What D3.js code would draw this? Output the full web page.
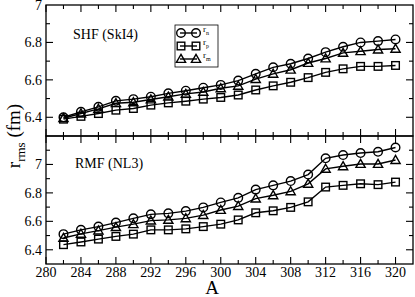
<!DOCTYPE html>
<html><head>
<script src="https://d3js.org/d3.v7.min.js"></script>
<style>
  body { margin: 0; background: #fff; }
  text { font-family: "Liberation Serif", "DejaVu Serif", serif; }
</style>
</head>
<body>
<svg id="svg1" width="415" height="297"></svg>
<script>
// mass numbers
const massNumbers = [282,284,286,288,290,292,294,296,298,300,302,304,306,308,310,312,314,316,318,320];

// SHF (SkI4)
const shfRn = [6.400,6.429,6.456,6.488,6.497,6.510,6.528,6.542,6.558,6.573,6.596,6.632,6.667,6.686,6.714,6.748,6.777,6.800,6.807,6.816];
const shfRp = [6.390,6.405,6.420,6.438,6.447,6.465,6.477,6.486,6.497,6.506,6.519,6.546,6.568,6.587,6.612,6.640,6.659,6.672,6.672,6.677];
const shfRm = [6.395,6.420,6.445,6.475,6.480,6.495,6.510,6.525,6.535,6.555,6.568,6.604,6.632,6.654,6.690,6.714,6.744,6.753,6.762,6.766];

// RMF (NL3)
const rmfRn = [6.510,6.540,6.563,6.591,6.621,6.649,6.656,6.672,6.698,6.733,6.765,6.823,6.853,6.883,6.929,7.043,7.066,7.080,7.089,7.119];
const rmfRp = [6.436,6.455,6.475,6.494,6.510,6.540,6.540,6.547,6.563,6.580,6.610,6.660,6.674,6.698,6.737,6.841,6.853,6.864,6.858,6.876];
const rmfRm = [6.483,6.512,6.535,6.559,6.580,6.605,6.610,6.621,6.644,6.680,6.707,6.760,6.783,6.811,6.864,6.969,6.987,7.003,7.003,7.031];

const xTicks = [280,284,288,292,296,300,304,308,312,316,320];
const topTicks = [6.4,6.6,6.8,7];
const botTicks = [6.4,6.6,6.8,7];
const legendNames = ["n","p","m"];
const markerKinds = ["circle","square","triangle"];

const svg = d3.select("#svg1");
const left = 46, right = 413;

const x = d3.scaleLinear().domain([280,322]).range([left,right]);

const panels = [
  {label:"SHF (SkI4)", top:5, bottom:136, domain:[6.3,7.0], ticks:topTicks, series:[shfRn,shfRp,shfRm], lx:73, ly:39, legend:true},
  {label:"RMF (NL3)", top:136, bottom:264, domain:[6.3,7.2], ticks:botTicks, series:[rmfRn,rmfRp,rmfRm], lx:75, ly:168, legend:false}
];

function marker(g, kind, cx, cy) {
  if (kind === "circle") {
    g.append("circle").attr("cx",cx).attr("cy",cy).attr("r",4.3)
      .attr("fill","none").attr("stroke","#000").attr("stroke-width",1.4);
  } else if (kind === "square") {
    g.append("rect").attr("x",cx-3.8).attr("y",cy-3.8).attr("width",7.6).attr("height",7.6)
      .attr("fill","none").attr("stroke","#000").attr("stroke-width",1.4);
  } else {
    g.append("path").attr("d",`M${cx},${cy-4.6}L${cx+4.6},${cy+3.4}L${cx-4.6},${cy+3.4}Z`)
      .attr("fill","none").attr("stroke","#000").attr("stroke-width",1.4);
  }
}

panels.forEach((p, pi) => {
  const y = d3.scaleLinear().domain(p.domain).range([p.bottom,p.top]);
  const g = svg.append("g");

  // frame
  g.append("rect").attr("x",left).attr("y",p.top).attr("width",right-left).attr("height",p.bottom-p.top)
    .attr("fill","none").attr("stroke","#000").attr("stroke-width",1.3);

  // y ticks (inward, both sides)
  const yMinor = d3.range(p.domain[0]+0.1, p.domain[1]-0.01, 0.1);
  yMinor.forEach(v => {
    const major = p.ticks.some(t => Math.abs(t-v) < 1e-6);
    const len = major ? 7 : 4;
    g.append("line").attr("x1",left).attr("x2",left+len).attr("y1",y(v)).attr("y2",y(v)).attr("stroke","#000").attr("stroke-width",1.1);
    g.append("line").attr("x1",right).attr("x2",right-len).attr("y1",y(v)).attr("y2",y(v)).attr("stroke","#000").attr("stroke-width",1.1);
  });
  p.ticks.forEach(t => {
    g.append("text").attr("x",left-4).attr("y",y(t)).attr("dy","0.35em")
      .attr("text-anchor","end").attr("font-size",14).text(d3.format("~g")(t));
  });

  // x ticks (inward, top and bottom of each panel)
  d3.range(280,322,2).forEach(v => {
    const len = (v % 4 === 0) ? 7 : 4;
    g.append("line").attr("x1",x(v)).attr("x2",x(v)).attr("y1",p.bottom).attr("y2",p.bottom-len).attr("stroke","#000").attr("stroke-width",1.1);
    g.append("line").attr("x1",x(v)).attr("x2",x(v)).attr("y1",p.top).attr("y2",p.top+len).attr("stroke","#000").attr("stroke-width",1.1);
  });

  // series
  const line = d3.line().x((d,i) => x(massNumbers[i])).y(d => y(d));
  p.series.forEach((s, si) => {
    const sg = g.append("g");
    sg.append("path").attr("d", line(s)).attr("fill","none").attr("stroke","#000").attr("stroke-width",1.4);
    s.forEach((v,i) => marker(sg, markerKinds[si], x(massNumbers[i]), y(v)));
  });

  g.append("text").attr("x",p.lx).attr("y",p.ly).attr("font-size",14).text(p.label);

  if (p.legend) {
    const lg = g.append("g").attr("transform","translate(175,25)");
    lg.append("rect").attr("width",43).attr("height",42).attr("fill","#fff").attr("stroke","#000").attr("stroke-width",0.8);
    legendNames.forEach((n, i) => {
      const ly = 8 + i*13;
      lg.append("line").attr("x1",5).attr("x2",22).attr("y1",ly).attr("y2",ly).attr("stroke","#000").attr("stroke-width",1.4);
      marker(lg, markerKinds[i], 6, ly);
      marker(lg, markerKinds[i], 21, ly);
      const t = lg.append("text").attr("x",28).attr("y",ly-1).attr("font-size",9);
      t.append("tspan").text("r");
      t.append("tspan").attr("font-size",6).attr("dy",3).text(n);
    });
  }
});

// bottom x labels
xTicks.forEach(v => {
  svg.append("text").attr("x",x(v)).attr("y",264+13).attr("text-anchor","middle").attr("font-size",14).text(v);
});
svg.append("text").attr("x",212).attr("y",294).attr("text-anchor","middle").attr("font-size",19).text("A");

// y label
const yl = svg.append("text").attr("transform","translate(20,136) rotate(-90)").attr("text-anchor","middle").attr("font-size",19);
yl.append("tspan").text("r");
yl.append("tspan").attr("font-size",13).attr("dy",5).text("rms");
yl.append("tspan").attr("dy",-5).text(" (fm)");
</script>
</body>
</html>
